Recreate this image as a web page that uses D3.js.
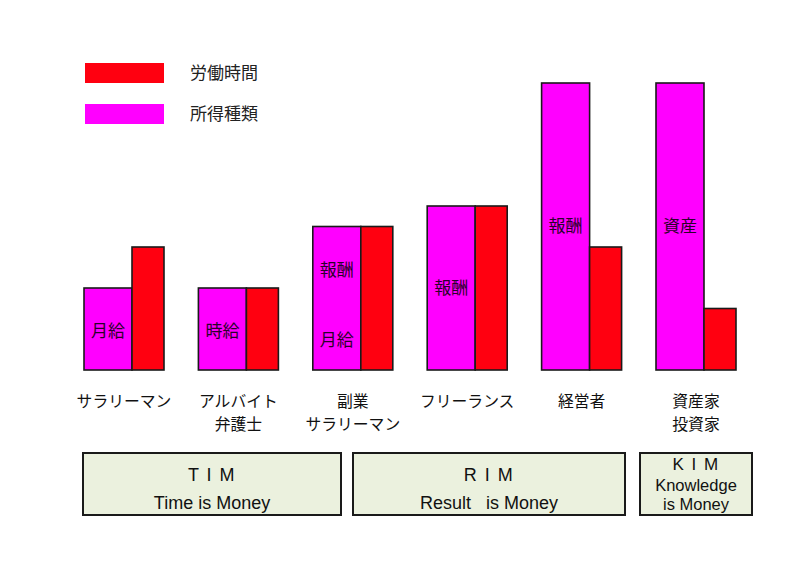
<!DOCTYPE html>
<html>
<head>
<meta charset="utf-8">
<script src="https://cdn.jsdelivr.net/npm/d3@7"></script>
<style>
  html, body { margin: 0; padding: 0; background: #fff; }
  svg { display: block; }
  text { white-space: pre; }
</style>
</head>
<body>
<svg id="chart" width="800" height="564"></svg>
<script>
// ---- data ----
const categories = ["サラリーマン", "アルバイト\n弁護士", "副業\nサラリーマン", "フリーランス", "経営者", "資産家\n投資家"];
const incomeValues = [2, 2, 3.5, 4, 7, 7];        // 所得種類 (magenta)
const laborValues  = [3, 2, 3.5, 4, 3, 1.5];      // 労働時間 (red)
// text inside the magenta bars: [category index, text, value-level]
const barTexts = [
  [0, "月給", 0.95],
  [1, "時給", 0.95],
  [2, "報酬", 2.45],
  [2, "月給", 0.73],
  [3, "報酬", 2.0],
  [4, "報酬", 3.5],
  [5, "資産", 3.5]
];
const legendItems = [["労働時間", "#FF0010"], ["所得種類", "#FF00FF"]];
const groupBoxes = [
  { title: "T I M", lines: ["Time is Money"] },
  { title: "R I M", lines: ["Result   is Money"] },
  { title: "K I M", lines: ["Knowledge", "is Money"] }
];

// ---- layout ----
const svg = d3.select("#chart");
const jp = "'Noto Sans CJK JP', 'Noto Sans', sans-serif";
const lat = "'Liberation Sans', Arial, sans-serif";
const idx = d3.range(categories.length);

const x = d3.scaleBand().domain(idx).range([84, 736]).paddingInner(0.3007).paddingOuter(0);
const y = d3.scaleLinear().domain([0, 7]).range([370, 83]);
const split = 0.6;

// legend
const lg = svg.append("g");
legendItems.forEach(([name, color], i) => {
  const yy = 63 + i * 41;
  lg.append("rect").attr("x", 85).attr("y", yy).attr("width", 79).attr("height", 20)
    .attr("fill", color);
  lg.append("text").attr("x", 190).attr("y", yy + 10).attr("dy", "0.35em")
    .attr("font-family", jp).attr("font-size", 17).attr("fill", "#222").text(name);
});

// bars
const bars = svg.append("g");
bars.selectAll("rect.inc").data(idx).join("rect").attr("class", "inc")
  .attr("x", i => x(i))
  .attr("y", i => y(incomeValues[i]))
  .attr("width", x.bandwidth() * split)
  .attr("height", i => y(0) - y(incomeValues[i]))
  .attr("fill", "#FF00FF").attr("stroke", "#1a1a1a").attr("stroke-width", 1.6);
bars.selectAll("rect.lab").data(idx).join("rect").attr("class", "lab")
  .attr("x", i => x(i) + x.bandwidth() * split)
  .attr("y", i => y(laborValues[i]))
  .attr("width", x.bandwidth() * (1 - split))
  .attr("height", i => y(0) - y(laborValues[i]))
  .attr("fill", "#FF0010").attr("stroke", "#1a1a1a").attr("stroke-width", 1.6);

// texts inside bars
svg.append("g").selectAll("text").data(barTexts).join("text")
  .attr("x", d => x(d[0]) + x.bandwidth() * split / 2)
  .attr("y", d => y(d[2]))
  .attr("dy", "0.35em")
  .attr("text-anchor", "middle")
  .attr("font-family", jp).attr("font-size", 17).attr("fill", "#2a002a")
  .text(d => d[1]);

// category labels
const cl = svg.append("g");
idx.forEach(i => {
  const lines = categories[i].split("\n");
  lines.forEach((ln, k) => {
    cl.append("text")
      .attr("x", x(i) + x.bandwidth() / 2)
      .attr("y", 401 + k * 23)
      .attr("dy", "0.35em")
      .attr("text-anchor", "middle")
      .attr("font-family", jp).attr("font-size", 15.8).attr("fill", "#111")
      .text(ln);
  });
});

// group boxes
const boxGeom = [[83, 341], [353, 625], [640, 752]];
const bg = svg.append("g");
groupBoxes.forEach((b, i) => {
  const [x0, x1] = boxGeom[i];
  const cx = (x0 + x1) / 2;
  bg.append("rect").attr("x", x0).attr("y", 453).attr("width", x1 - x0).attr("height", 62)
    .attr("fill", "#EBF1DE").attr("stroke", "#1a1a1a").attr("stroke-width", 2);
  if (b.lines.length === 1) {
    bg.append("text").attr("x", cx).attr("y", 481).attr("text-anchor", "middle")
      .attr("font-family", lat).attr("font-size", 18).attr("letter-spacing", 1.5)
      .attr("fill", "#111").text(b.title);
    bg.append("text").attr("x", cx).attr("y", 509).attr("text-anchor", "middle")
      .attr("font-family", lat).attr("font-size", 18).attr("fill", "#111").text(b.lines[0]);
  } else {
    bg.append("text").attr("x", cx).attr("y", 470).attr("text-anchor", "middle")
      .attr("font-family", lat).attr("font-size", 17).attr("letter-spacing", 1.5)
      .attr("fill", "#111").text(b.title);
    b.lines.forEach((ln, k) => {
      bg.append("text").attr("x", cx).attr("y", 491 + k * 19).attr("text-anchor", "middle")
        .attr("font-family", lat).attr("font-size", 16.5).attr("fill", "#111").text(ln);
    });
  }
});
</script>
</body>
</html>
